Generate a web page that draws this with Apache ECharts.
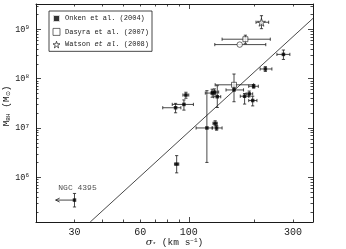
<!DOCTYPE html>
<html><head><meta charset="utf-8">
<script src="https://cdn.jsdelivr.net/npm/echarts@6/dist/echarts.min.js"></script>
<style>html,body{margin:0;padding:0;background:#fff}#c{width:346px;height:249px}</style>
</head><body><div id="c"></div>
<script>
// ---- axis ranges and ticks ----
const xMin = 20, xMax = 370;
const yMin = 1.24e5, yMax = 3.26e9;
const xTickLabels = [30, 60, 100, 300];
const xMinorTicks = [30, 40, 50, 60, 70, 80, 90, 200, 300];
const xMajorTicks = [100];
const yTickLabels = [1e6, 1e7, 1e8, 1e9];
const yMajorTicks = [1e6, 1e7, 1e8, 1e9];

// ---- Onken et al. (2004) ----
const onkenSigma   = [88, 87, 95, 97, 121, 128, 131, 135, 132, 134, 161, 198, 180, 189, 196, 224, 271];
const onkenMass    = [1.85e6, 2.57e7, 3.0e7, 4.65e7, 1.0e7, 5.1e7, 5.35e7, 4.3e7, 1.24e7, 1.0e7, 5.9e7, 7.0e7, 4.4e7, 4.9e7, 3.6e7, 1.57e8, 3.1e8];
const onkenSigmaLo = [86, 76, 84, 94, 108, 119, 127, 130, 129, 128, 148, 188, 172, 183, 188, 212, 253];
const onkenSigmaHi = [90, 92, 105, 100, 128, 133, 137, 140, 135, 142, 178, 208, 188, 196, 205, 240, 290];
const onkenMassLo  = [1.23e6, 2.03e7, 2.3e7, 4.0e7, 2.0e6, 4.2e7, 4.7e7, 2.6e7, 1.1e7, 0.9e7, 3.4e7, 6.4e7, 3.05e7, 4.3e7, 2.8e7, 1.4e8, 2.45e8];
const onkenMassHi  = [2.75e6, 3.15e7, 3.7e7, 5.3e7, 5.7e7, 6.1e7, 6.2e7, 7.2e7, 1.4e7, 1.12e7, 7.4e7, 7.6e7, 5.0e7, 5.6e7, 4.4e7, 1.75e8, 3.8e8];

// NGC 4395 (upper limit on sigma)
const ngcName = ['NGC 4395'];
const ngcSigma = [30];
const ngcMass = [3.45e5];
const ngcMassLo = [2.5e5];
const ngcMassHi = [4.7e5];
const ngcArrowTo = [24.6];

// ---- Dasyra et al. (2007) ----
const dasyraSigma   = [161, 181.5];
const dasyraMass    = [7.5e7, 6.3e8];
const dasyraSigmaLo = [132, 142];
const dasyraSigmaHi = [198, 236];
const dasyraMassLo  = [6.4e7, 5.1e8];
const dasyraMassHi  = [1.24e8, 7.6e8];

// open circle
const circSigma   = [171];
const circMass    = [4.9e8];
const circSigmaLo = [131.5];
const circSigmaHi = [225];

// ---- Watson et al. (2008) ----
const watsonSigma   = [215];
const watsonMass    = [1.39e9];
const watsonSigmaLo = [203];
const watsonSigmaHi = [232];
const watsonMassLo  = [1.03e9];
const watsonMassHi  = [1.89e9];

// ---- fit line ----
const fitSigma = [35.4, 370];
const fitMass  = [1.24e5, 1.67e9];

const L = v => (v == null ? null : Math.log10(v));
const MONO = 'Liberation Mono';
const SERIF = 'DejaVu Serif';
const INK = '#1a1a1a';
const starPath = 'path://M50,0 L61,35 L98,35 L68,57 L79,91 L50,70 L21,91 L32,57 L2,35 L39,35 Z';

const yMinorTicks = [];
for (let e = 5; e <= 9; e++) for (let k = 2; k <= 9; k++) {
  const v = k * Math.pow(10, e);
  if (v > yMin && v < yMax) yMinorTicks.push(v);
}

// error-bar rows: [x, y, xlo, xhi, ylo, yhi]
const errRows = [];
function addErr(sx, my, slo, shi, mlo, mhi) {
  for (let i = 0; i < sx.length; i++) {
    errRows.push([L(sx[i]), L(my[i]), slo ? L(slo[i]) : null, shi ? L(shi[i]) : null,
                  mlo ? L(mlo[i]) : null, mhi ? L(mhi[i]) : null]);
  }
}
addErr(onkenSigma, onkenMass, onkenSigmaLo, onkenSigmaHi, onkenMassLo, onkenMassHi);
addErr(ngcSigma, ngcMass, null, null, ngcMassLo, ngcMassHi);
addErr(dasyraSigma, dasyraMass, dasyraSigmaLo, dasyraSigmaHi, dasyraMassLo, dasyraMassHi);
addErr(circSigma, circMass, circSigmaLo, circSigmaHi, null, null);
addErr(watsonSigma, watsonMass, watsonSigmaLo, watsonSigmaHi, watsonMassLo, watsonMassHi);

const ok = v => v != null && !isNaN(v);
function errRender(params, api) {
  const x = api.value(0), y = api.value(1);
  const st = { stroke: INK, lineWidth: 0.8 };
  const ch = [];
  const cap = 1.6;
  const xlo = api.value(2), xhi = api.value(3), ylo = api.value(4), yhi = api.value(5);
  if (ok(xlo) && ok(xhi)) {
    const a = api.coord([xlo, y]), b = api.coord([xhi, y]);
    ch.push({ type: 'line', shape: { x1: a[0], y1: a[1], x2: b[0], y2: b[1] }, style: st });
    ch.push({ type: 'line', shape: { x1: a[0], y1: a[1] - cap, x2: a[0], y2: a[1] + cap }, style: st });
    ch.push({ type: 'line', shape: { x1: b[0], y1: b[1] - cap, x2: b[0], y2: b[1] + cap }, style: st });
  }
  if (ok(ylo) && ok(yhi)) {
    const a = api.coord([x, ylo]), b = api.coord([x, yhi]);
    ch.push({ type: 'line', shape: { x1: a[0], y1: a[1], x2: b[0], y2: b[1] }, style: st });
    ch.push({ type: 'line', shape: { x1: a[0] - cap, y1: a[1], x2: a[0] + cap, y2: a[1] }, style: st });
    ch.push({ type: 'line', shape: { x1: b[0] - cap, y1: b[1], x2: b[0] + cap, y2: b[1] }, style: st });
  }
  return { type: 'group', children: ch };
}
function arrowRender(params, api) {
  const a = api.coord([api.value(0), api.value(1)]);
  const b = api.coord([api.value(2), api.value(1)]);
  const st = { stroke: INK, lineWidth: 0.8, fill: null };
  return { type: 'group', children: [
    { type: 'line', shape: { x1: a[0], y1: a[1], x2: b[0], y2: b[1] }, style: st },
    { type: 'polyline', shape: { points: [[b[0] + 4, b[1] - 2], [b[0], b[1]], [b[0] + 4, b[1] + 2]] }, style: st }
  ]};
}

const pts = (sx, my) => sx.map((s, i) => [L(s), L(my[i])]);

function xAx(pos, ticks, len, labels, showLine, extra) {
  return Object.assign({
    type: 'value', position: pos, min: L(xMin), max: L(xMax), gridIndex: 0,
    axisLine: { show: showLine, onZero: false, lineStyle: { color: INK, width: 1 } },
    axisTick: { show: true, inside: true, length: len, customValues: ticks.map(L), lineStyle: { color: INK, width: 0.8 } },
    axisLabel: labels ? { show: true, customValues: labels.map(L), margin: 5, fontFamily: MONO, fontSize: 10, color: INK,
      formatter: v => String(Math.round(Math.pow(10, v))) } : { show: false },
    splitLine: { show: false }
  }, extra || {});
}
function yAx(pos, ticks, len, labels, showLine, extra) {
  return Object.assign({
    type: 'value', position: pos, min: L(yMin), max: L(yMax), gridIndex: 0,
    axisLine: { show: showLine, onZero: false, lineStyle: { color: INK, width: 1 } },
    axisTick: { show: true, inside: true, length: len, customValues: ticks.map(L), lineStyle: { color: INK, width: 0.8 } },
    axisLabel: labels ? { show: true, customValues: labels.map(L), margin: 7, color: INK,
      formatter: v => '{b|10}{s|' + Math.round(v) + '}',
      rich: { b: { fontFamily: MONO, fontSize: 8.5, color: INK, lineHeight: 10, verticalAlign: 'middle' },
              s: { fontFamily: MONO, fontSize: 6, color: INK, lineHeight: 6, verticalAlign: 'top' } } } : { show: false },
    splitLine: { show: false }
  }, extra || {});
}

const chart = echarts.init(document.getElementById('c'), null, { renderer: 'canvas' });
chart.setOption({
  animation: false,
  backgroundColor: '#fff',
  grid: { left: 36, right: 33, top: 4, bottom: 27, containLabel: false, outerBoundsMode: 'none' },
  xAxis: [
    xAx('bottom', xMinorTicks, 2.5, xTickLabels, true, {
      name: '{i|σ}{sub|*} (km s{sup|−1})', nameLocation: 'middle', nameGap: 15, nameMoveOverlap: false,
      nameTextStyle: { fontFamily: MONO, fontSize: 9.5, color: INK,
        rich: { i: { fontFamily: SERIF, fontStyle: 'italic', fontSize: 10, color: INK },
                sub: { fontFamily: MONO, fontSize: 6, color: INK, padding: [4, 0, 0, 0] },
                sup: { fontFamily: MONO, fontSize: 6, color: INK, padding: [0, 0, 5, 0] } } } }),
    xAx('bottom', xMajorTicks, 5, null, false),
    xAx('top', xMinorTicks, 2.5, null, true),
    xAx('top', xMajorTicks, 5, null, false)
  ],
  yAxis: [
    yAx('left', yMinorTicks, 2.5, yTickLabels, true, {
      name: '{m|M}{sub|BH} {m|(M}{sub|⊙}{m|)}', nameLocation: 'middle', nameGap: 25, nameRotate: 90, nameMoveOverlap: false,
      nameTextStyle: { fontFamily: MONO, fontSize: 9.5, color: INK, padding: [0, 0, 0, 14],
        rich: { m: { fontFamily: MONO, fontSize: 9.5, color: INK },
                sub: { fontFamily: MONO, fontSize: 6, color: INK, padding: [4, 0, 0, 0] } } } }),
    yAx('left', yMajorTicks, 5, null, false),
    yAx('right', yMinorTicks, 2.5, null, true),
    yAx('right', yMajorTicks, 5, null, false)
  ],
  legend: {
    orient: 'vertical', left: 49, top: 11, padding: [3, 3, 3, 3], itemGap: 5,
    itemWidth: 7, itemHeight: 7, borderColor: INK, borderWidth: 0.8, borderRadius: 0,
    textStyle: { fontFamily: MONO, fontSize: 7, color: INK,
      rich: { i: { fontFamily: MONO, fontStyle: 'italic', fontSize: 7, color: INK } } },
    formatter: n => n === 'Watson et al. (2008)' ? 'Watson {i|et al.} (2008)' : n,
    data: [
      { name: 'Onken et al. (2004)', icon: 'rect', itemStyle: { color: '#000', borderColor: '#fff', borderWidth: 2 } },
      { name: 'Dasyra et al. (2007)', icon: 'rect', itemStyle: { color: '#fff', borderColor: INK, borderWidth: 0.8 } },
      { name: 'Watson et al. (2008)', icon: starPath, itemStyle: { color: '#fff', borderColor: INK, borderWidth: 0.9 } }
    ]
  },
  series: [
    { type: 'line', data: pts(fitSigma, fitMass), symbol: 'none', clip: true,
      lineStyle: { color: INK, width: 0.8 }, z: 1, silent: true },
    { type: 'custom', renderItem: errRender, data: errRows, encode: { x: 0, y: 1 }, z: 2, silent: true, clip: true },
    { type: 'custom', renderItem: arrowRender, data: ngcSigma.map((s, i) => [L(s), L(ngcMass[i]), L(ngcArrowTo[i])]),
      encode: { x: 0, y: 1 }, z: 2, silent: true },
    { type: 'scatter', name: 'Onken et al. (2004)', data: pts(onkenSigma, onkenMass), symbol: 'rect', symbolSize: 3.5,
      itemStyle: { color: '#000' }, z: 3 },
    { type: 'scatter', name: 'Onken et al. (2004)', data: ngcSigma.map((s, i) => ({ value: [L(s), L(ngcMass[i])], name: ngcName[i] })),
      symbol: 'rect', symbolSize: 3.5, itemStyle: { color: '#000' }, z: 3,
      label: { show: true, position: 'top', distance: 6, offset: [3, 0], formatter: p => p.name,
               fontFamily: MONO, fontSize: 8, color: INK } },
    { type: 'scatter', name: 'Dasyra et al. (2007)', data: pts(dasyraSigma, dasyraMass), symbol: 'rect', symbolSize: 5,
      itemStyle: { color: '#fff', borderColor: INK, borderWidth: 0.8 }, z: 3 },
    { type: 'scatter', name: 'circle', data: pts(circSigma, circMass), symbol: 'circle', symbolSize: 5.5,
      itemStyle: { color: '#fff', borderColor: INK, borderWidth: 0.8 }, z: 3 },
    { type: 'scatter', name: 'Watson et al. (2008)', data: pts(watsonSigma, watsonMass), symbol: starPath, symbolSize: 8,
      itemStyle: { color: '#fff', borderColor: INK, borderWidth: 0.9 }, z: 3 }
  ]
});
</script></body></html>
